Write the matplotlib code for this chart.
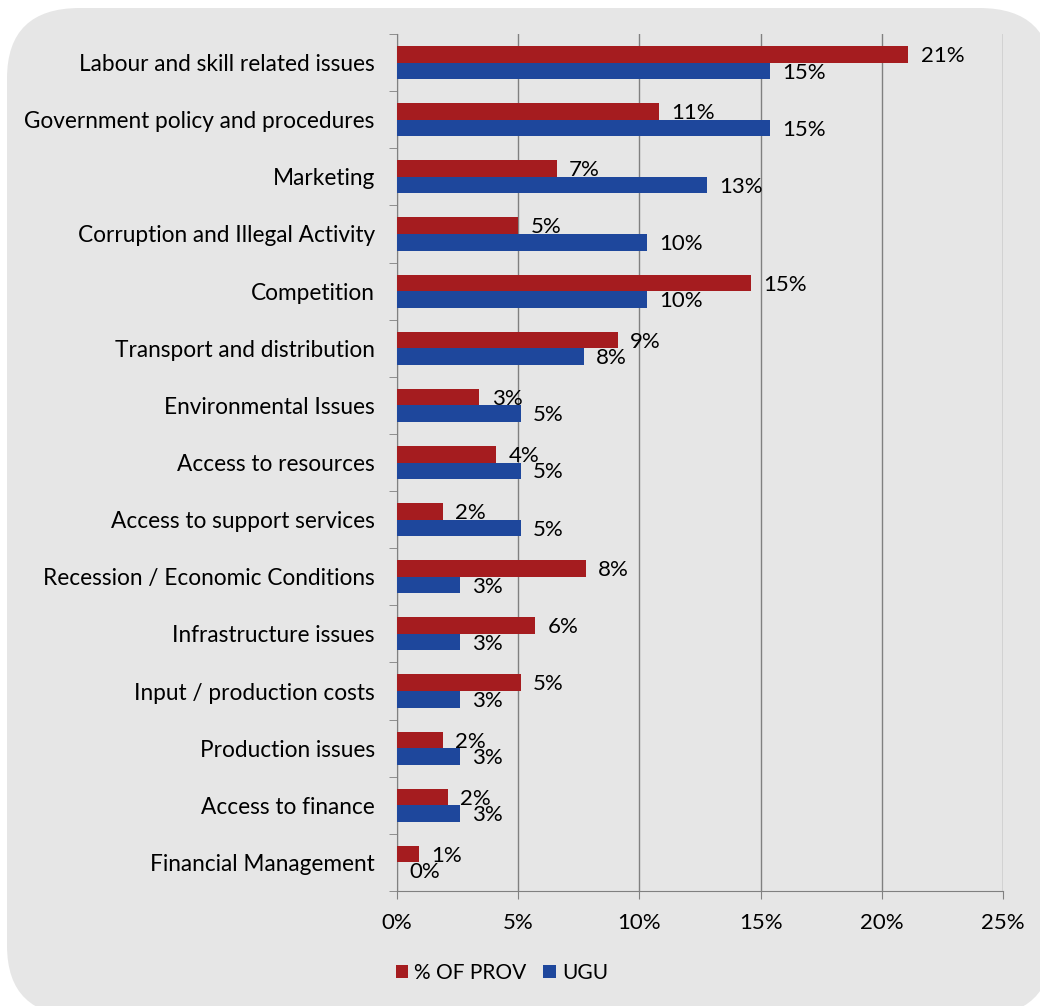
import numpy as np
import matplotlib.pyplot as plt
from matplotlib.patches import FancyBboxPatch

categorias = ['Labour and skill related issues', 'Government policy and procedures', 'Marketing',
              'Corruption and Illegal Activity', 'Competition', 'Transport and distribution',
              'Environmental Issues', 'Access to resources', 'Access to support services',
              'Recession / Economic Conditions', 'Infrastructure issues', 'Input / production costs',
              'Production issues', 'Access to finance', 'Financial Management']
prov = [21.1, 10.8, 6.6, 5.0, 14.6, 9.1, 3.4, 4.1, 1.9, 7.8, 5.7, 5.1, 1.9, 2.1, 0.9]
ugu = [15.4, 15.4, 12.8, 10.3, 10.3, 7.7, 5.1, 5.1, 5.1, 2.6, 2.6, 2.6, 2.6, 2.6, 0.0]
etiq_prov = ['21%', '11%', '7%', '5%', '15%', '9%', '3%', '4%', '2%', '8%', '6%', '5%', '2%', '2%', '1%']
etiq_ugu = ['15%', '15%', '13%', '10%', '10%', '8%', '5%', '5%', '5%', '3%', '3%', '3%', '3%', '3%', '0%']

plt.rcParams['font.family'] = ['Lato', 'DejaVu Sans']
rojo = '#a51c1f'
azul = '#1e479c'
gris = '#e6e6e6'

fig = plt.figure(figsize=(10.4, 10.06), dpi=100)
fig.patch.set_facecolor('white')
# fondo redondeado
fondo = FancyBboxPatch((7/1040, -10/1006), 1045/1040, 1008/1006, boxstyle='round,pad=0,rounding_size=0.07',
                       transform=fig.transFigure, facecolor=gris, edgecolor='none', zorder=-1)
fig.patches.append(fondo)

ax = fig.add_axes([397/1040, 1 - 891/1006, (1003 - 397)/1040, (891 - 34)/1006])
ax.set_facecolor(gris)

y = np.arange(len(categorias))
h = 0.29
ax.barh(y - h/2, prov, height=h, color=rojo, label='% OF PROV', zorder=3)
ax.barh(y + h/2, ugu, height=h, color=azul, label='UGU', zorder=3)

for i in range(len(categorias)):
    ax.text(prov[i] + 0.5, y[i] - h/2 + 0.03, etiq_prov[i], va='center', ha='left', fontsize=16, zorder=4)
    ax.text(ugu[i] + 0.5, y[i] + h/2 + 0.03, etiq_ugu[i], va='center', ha='left', fontsize=16, zorder=4)

ax.set_xlim(0, 25)
ax.set_ylim(len(categorias) - 0.5, -0.5)
ax.set_xticks([0, 5, 10, 15, 20, 25])
ax.set_xticklabels(['0%', '5%', '10%', '15%', '20%', '25%'], fontsize=16)
ax.set_yticks(y)
ax.set_yticklabels(categorias, fontsize=16.3)
ax.set_yticks(np.arange(-0.5, len(categorias)), minor=True)
ax.tick_params(axis='y', which='major', length=0, pad=16)
ax.tick_params(axis='y', which='minor', length=6, color='#808080')
ax.tick_params(axis='x', length=6, color='#808080', pad=10)
ax.grid(axis='x', color='#808080', linewidth=1, zorder=1)
for s in ['top', 'right']:
    ax.spines[s].set_visible(False)
for s in ['left', 'bottom']:
    ax.spines[s].set_color('#808080')

fig.legend(loc='center', bbox_to_anchor=(502/1040, 1 - 973/1006), ncol=2, frameon=False,
           fontsize=15, handlelength=0.6, handleheight=0.6, handletextpad=0.3, columnspacing=0.8)

plt.savefig('out.png', dpi=100, facecolor='white')
